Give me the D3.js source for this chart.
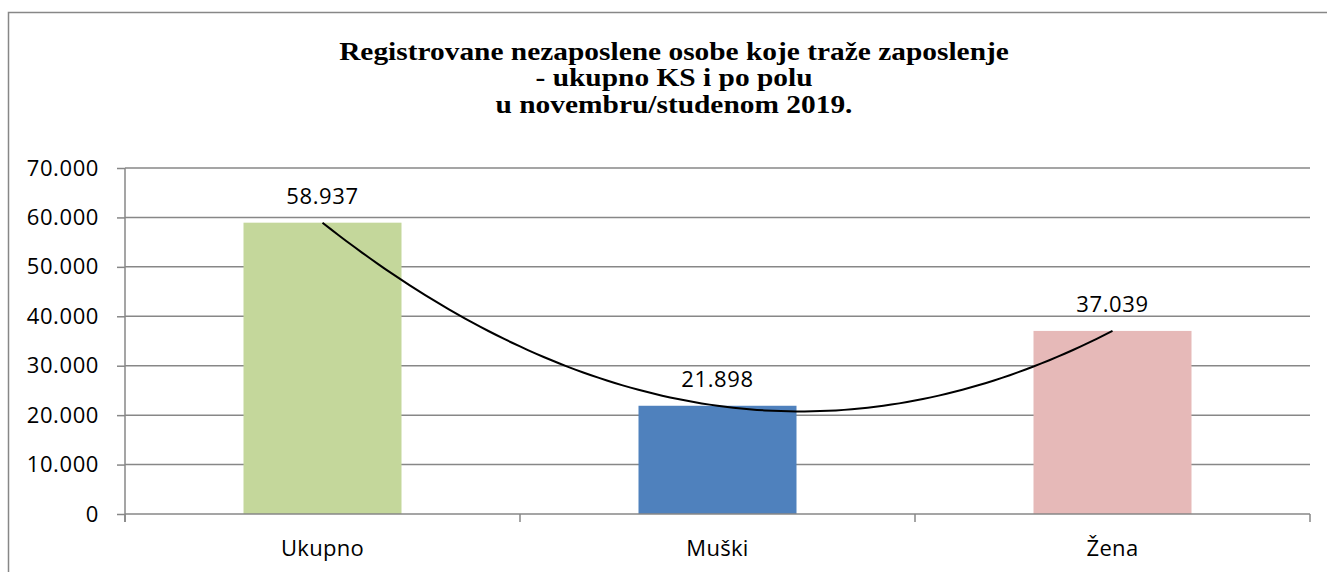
<!DOCTYPE html>
<html>
<head>
<meta charset="utf-8">
<script src="https://cdn.jsdelivr.net/npm/d3@7/dist/d3.min.js"></script>
<style>
  html, body { margin: 0; padding: 0; background: #fff; }
  svg { display: block; }
</style>
</head>
<body>
<div id="chart"></div>
<script>
// data
const categories = ['Ukupno', 'Muški', 'Žena'];
const values = [58937, 21898, 37039];
const barColors = ['#C4D79B', '#4F81BD', '#E6B9B8'];
const yTicks = [0, 10000, 20000, 30000, 40000, 50000, 60000, 70000];
const titleLines = [
  'Registrovane nezaposlene osobe koje traže zaposlenje',
  '- ukupno KS i po polu',
  'u novembru/studenom 2019.'
];

const width = 1327, height = 572;
const margin = {top: 168, right: 17, bottom: 58, left: 125};
const labelFont = '"Open Sans", sans-serif';
const gridColor = '#878787';

let svg = d3.select('#chart').append('svg')
  .attr('width', width)
  .attr('height', height);

// outer chart border (right/bottom fall outside the picture)
svg.append('rect')
  .attr('x', 8.5).attr('y', 12.5)
  .attr('width', width + 20).attr('height', height + 20)
  .attr('fill', 'none')
  .attr('stroke', gridColor)
  .attr('stroke-width', 1.5);

// title, squeezed horizontally like the original
let title = svg.append('g');
let titleText = title.selectAll('text')
  .data(titleLines)
  .enter()
  .append('text')
  .attr('x', 0)
  .attr('y', (d, i) => 60 + i * 26.5)
  .attr('text-anchor', 'middle')
  .style('font-family', '"Liberation Serif", "Times New Roman", serif')
  .style('font-weight', 'bold')
  .style('font-size', '25px')
  .text(d => d);
let natural = titleText.nodes()[0].getComputedTextLength();
let sx = 670 / natural;
title.attr('transform', 'translate(674,0) scale(' + sx + ',1)');

let x = d3.scaleBand()
  .domain(categories)
  .range([margin.left, width - margin.right])
  .paddingInner(0.6)
  .paddingOuter(0.3);

let y = d3.scaleLinear()
  .domain([0, 70000])
  .range([height - margin.bottom, margin.top]);

const fmt = d3.formatLocale({decimal: ',', thousands: '.', grouping: [3], currency: ['', '']}).format(',d');

// gridlines + y ticks
let yAxis = svg.append('g')
  .attr('transform', 'translate(' + margin.left + ',0)')
  .call(d3.axisLeft(y).tickValues(yTicks).tickFormat(fmt)
    .tickSize(8).tickPadding(18));
yAxis.select('.domain').remove();
yAxis.selectAll('line').attr('stroke', gridColor).attr('stroke-width', 1.5);
yAxis.selectAll('text')
  .style('font-family', labelFont)
  .style('font-size', '22px')
  .style('letter-spacing', '0.6px')
  .attr('fill', '#000');

svg.append('g')
  .selectAll('line')
  .data(yTicks.filter(d => d > 0))
  .enter()
  .append('line')
  .attr('x1', margin.left).attr('x2', width - margin.right)
  .attr('y1', d => y(d)).attr('y2', d => y(d))
  .attr('stroke', gridColor)
  .attr('stroke-width', 1.5);

// y axis line
svg.append('line')
  .attr('x1', margin.left).attr('x2', margin.left)
  .attr('y1', y(70000)).attr('y2', y(0) + 8)
  .attr('stroke', gridColor).attr('stroke-width', 1.5);

// bars
svg.append('g')
  .selectAll('rect')
  .data(values)
  .enter()
  .append('rect')
  .attr('x', (d, i) => x(categories[i]))
  .attr('y', d => y(d))
  .attr('width', x.bandwidth())
  .attr('height', d => y(0) - y(d))
  .attr('fill', (d, i) => barColors[i]);

// x axis with ticks between categories
let step = x.step();
let boundaries = d3.range(categories.length + 1).map(i => margin.left + i * step);
svg.append('line')
  .attr('x1', margin.left).attr('x2', width - margin.right)
  .attr('y1', y(0)).attr('y2', y(0))
  .attr('stroke', gridColor).attr('stroke-width', 1.5);
svg.append('g')
  .selectAll('line')
  .data(boundaries)
  .enter()
  .append('line')
  .attr('x1', d => d).attr('x2', d => d)
  .attr('y1', y(0)).attr('y2', y(0) + 8)
  .attr('stroke', gridColor).attr('stroke-width', 1.5);

svg.append('g')
  .selectAll('text')
  .data(categories)
  .enter()
  .append('text')
  .attr('x', d => x(d) + x.bandwidth() / 2)
  .attr('y', 556)
  .attr('text-anchor', 'middle')
  .style('font-family', labelFont)
  .style('font-size', '22px')
  .style('letter-spacing', '0.3px')
  .text(d => d);

// polynomial (order 2) trendline, least squares through the series
let xs = values.map((d, i) => i + 1);
function polyFit(xv, yv) {
  // normal equations for a + b x + c x^2
  let S = k => d3.sum(xv, v => Math.pow(v, k));
  let T = k => d3.sum(xv, (v, i) => Math.pow(v, k) * yv[i]);
  let A = [[S(0), S(1), S(2)], [S(1), S(2), S(3)], [S(2), S(3), S(4)]];
  let B = [T(0), T(1), T(2)];
  // gaussian elimination
  for (let c = 0; c < 3; c++) {
    for (let r = c + 1; r < 3; r++) {
      let f = A[r][c] / A[c][c];
      for (let k = c; k < 3; k++) A[r][k] -= f * A[c][k];
      B[r] -= f * B[c];
    }
  }
  let coef = [0, 0, 0];
  for (let r = 2; r >= 0; r--) {
    let s = B[r];
    for (let k = r + 1; k < 3; k++) s -= A[r][k] * coef[k];
    coef[r] = s / A[r][r];
  }
  return coef;
}
let coef = polyFit(xs, values);
let xPos = t => x(categories[0]) + x.bandwidth() / 2 + (t - 1) * step;
let trend = d3.range(1, 3.0001, 0.02).map(t => [xPos(t), y(coef[0] + coef[1] * t + coef[2] * t * t)]);
svg.append('path')
  .attr('d', d3.line()(trend))
  .attr('fill', 'none')
  .attr('stroke', '#000')
  .attr('stroke-width', 2);

// data labels
svg.append('g')
  .selectAll('text')
  .data(values)
  .enter()
  .append('text')
  .attr('x', (d, i) => x(categories[i]) + x.bandwidth() / 2)
  .attr('y', d => y(d) - 19)
  .attr('text-anchor', 'middle')
  .style('font-family', labelFont)
  .style('font-size', '22px')
  .style('letter-spacing', '0.6px')
  .text(d => fmt(d));
</script>
</body>
</html>
